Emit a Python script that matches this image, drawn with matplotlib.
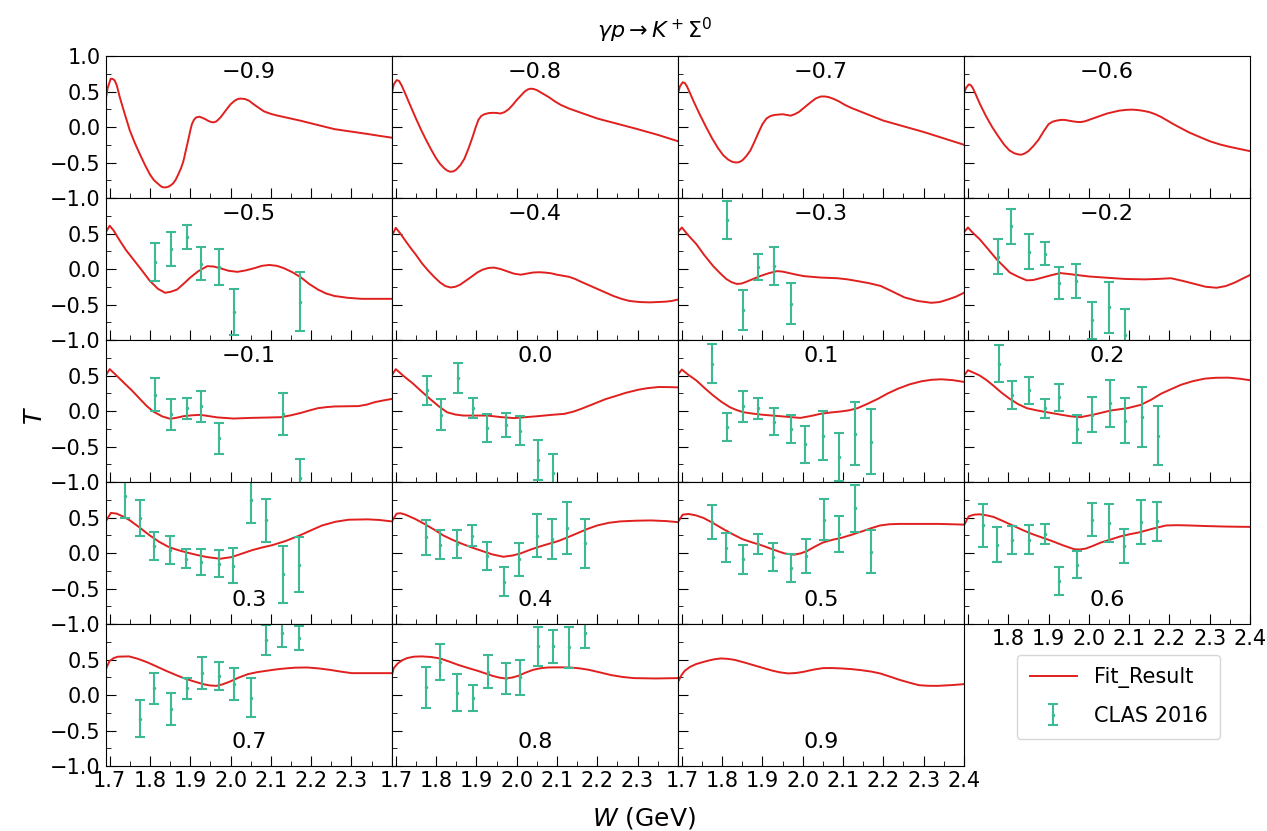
import matplotlib.pyplot as plt
from matplotlib.ticker import MultipleLocator

# panel labels (cos theta), in reading order
angles = ["−0.9", "−0.8", "−0.7", "−0.6",
          "−0.5", "−0.4", "−0.3", "−0.2",
          "−0.1", "0.0", "0.1", "0.2",
          "0.3", "0.4", "0.5", "0.6",
          "0.7", "0.8", "0.9"]

# fit curves, (W, T)
fit_m09 = [(1.689, 0.35), (1.695, 0.55), (1.7025, 0.68), (1.708, 0.675), (1.7125, 0.655),
           (1.718, 0.58), (1.725, 0.42), (1.737, 0.19), (1.75, -0.05), (1.762, -0.22),
           (1.775, -0.385), (1.788, -0.54), (1.80, -0.67), (1.81, -0.75), (1.82, -0.80),
           (1.827, -0.835), (1.833, -0.85), (1.84, -0.85), (1.846, -0.84), (1.852, -0.82),
           (1.858, -0.79), (1.864, -0.74), (1.87, -0.67), (1.877, -0.58), (1.883, -0.48),
           (1.889, -0.33), (1.895, -0.18), (1.90, -0.05), (1.904, 0.04), (1.909, 0.10),
           (1.9145, 0.135), (1.9225, 0.145), (1.93, 0.13), (1.9375, 0.11), (1.945, 0.085),
           (1.952, 0.07), (1.958, 0.065), (1.965, 0.08), (1.975, 0.135), (1.985, 0.21),
           (1.993, 0.27), (2.0, 0.32), (2.01, 0.37), (2.018, 0.395), (2.025, 0.40),
           (2.035, 0.395), (2.046, 0.37), (2.055, 0.33), (2.065, 0.29), (2.075, 0.25),
           (2.083, 0.22), (2.10, 0.185), (2.117, 0.16), (2.145, 0.125), (2.175, 0.087),
           (2.215, 0.03), (2.258, -0.03), (2.30, -0.065), (2.342, -0.10), (2.37, -0.125),
           (2.40, -0.15)]
fit_m08 = [(1.689, 0.45), (1.695, 0.60), (1.702, 0.66), (1.708, 0.65), (1.715, 0.58),
           (1.725, 0.45), (1.737, 0.29), (1.75, 0.12), (1.762, -0.03), (1.775, -0.18),
           (1.788, -0.32), (1.80, -0.44), (1.81, -0.52), (1.82, -0.58), (1.828, -0.615),
           (1.835, -0.63), (1.843, -0.625), (1.85, -0.60), (1.86, -0.54), (1.87, -0.45),
           (1.88, -0.31), (1.89, -0.15), (1.898, -0.01), (1.905, 0.10), (1.912, 0.155),
           (1.92, 0.18), (1.93, 0.195), (1.94, 0.20), (1.95, 0.198), (1.96, 0.19),
           (1.97, 0.21), (1.98, 0.25), (1.99, 0.31), (2.0, 0.38), (2.01, 0.44),
           (2.02, 0.50), (2.028, 0.53), (2.035, 0.54), (2.042, 0.535), (2.05, 0.52),
           (2.065, 0.47), (2.08, 0.42), (2.095, 0.36), (2.11, 0.31), (2.13, 0.26),
           (2.15, 0.22), (2.175, 0.17), (2.2, 0.12), (2.25, 0.045), (2.3, -0.03),
           (2.35, -0.11), (2.4, -0.2)]
fit_m07 = [(1.689, 0.45), (1.695, 0.57), (1.702, 0.63), (1.707, 0.62), (1.712, 0.58),
           (1.72, 0.48), (1.73, 0.35), (1.745, 0.17), (1.76, 0.0), (1.775, -0.16),
           (1.79, -0.30), (1.803, -0.40), (1.815, -0.46), (1.825, -0.49), (1.834, -0.50),
           (1.842, -0.495), (1.85, -0.47), (1.86, -0.41), (1.87, -0.33), (1.88, -0.21),
           (1.89, -0.08), (1.90, 0.04), (1.91, 0.12), (1.92, 0.155), (1.93, 0.17),
           (1.95, 0.18), (1.96, 0.17), (1.97, 0.16), (1.98, 0.18), (1.99, 0.21),
           (2.005, 0.28), (2.02, 0.35), (2.033, 0.405), (2.045, 0.43), (2.055, 0.43),
           (2.065, 0.42), (2.077, 0.395), (2.09, 0.36), (2.105, 0.31), (2.12, 0.27),
           (2.14, 0.225), (2.16, 0.18), (2.18, 0.135), (2.2, 0.09), (2.25, 0.01),
           (2.3, -0.07), (2.35, -0.16), (2.4, -0.25)]
fit_m06 = [(1.689, 0.45), (1.695, 0.55), (1.702, 0.60), (1.707, 0.59), (1.712, 0.55),
           (1.72, 0.45), (1.73, 0.32), (1.745, 0.15), (1.76, 0.0), (1.775, -0.13),
           (1.79, -0.25), (1.803, -0.33), (1.815, -0.37), (1.824, -0.385), (1.832, -0.39),
           (1.84, -0.375), (1.85, -0.34), (1.862, -0.27), (1.875, -0.18), (1.888, -0.06),
           (1.90, 0.04), (1.91, 0.075), (1.92, 0.09), (1.93, 0.10), (1.94, 0.10),
           (1.95, 0.09), (1.96, 0.08), (1.97, 0.072), (1.98, 0.07), (1.99, 0.08),
           (2.0, 0.10), (2.015, 0.13), (2.03, 0.16), (2.045, 0.19), (2.06, 0.21),
           (2.075, 0.23), (2.09, 0.24), (2.105, 0.245), (2.12, 0.24), (2.135, 0.228),
           (2.15, 0.21), (2.165, 0.18), (2.18, 0.14), (2.195, 0.09), (2.21, 0.04),
           (2.23, -0.02), (2.25, -0.08), (2.275, -0.14), (2.3, -0.20), (2.325, -0.245),
           (2.35, -0.28), (2.375, -0.31), (2.4, -0.34)]
fit_m05 = [(1.69, 0.514), (1.70, 0.61), (1.71, 0.54), (1.725, 0.40), (1.74, 0.27),
           (1.758, 0.14), (1.78, -0.02), (1.80, -0.17), (1.82, -0.28), (1.8375, -0.335),
           (1.852, -0.32), (1.867, -0.29), (1.883, -0.21), (1.90, -0.12), (1.92, -0.03),
           (1.942, 0.04), (1.958, 0.035), (1.975, 0.01), (1.995, -0.025), (2.017, -0.04),
           (2.037, -0.02), (2.058, 0.01), (2.078, 0.045), (2.096, 0.057), (2.115, 0.045),
           (2.133, 0.01), (2.155, -0.05), (2.175, -0.12), (2.195, -0.21), (2.217, -0.29),
           (2.237, -0.345), (2.258, -0.38), (2.29, -0.405), (2.325, -0.42), (2.36, -0.42),
           (2.40, -0.42)]
fit_m04 = [(1.689, 0.45), (1.70, 0.58), (1.71, 0.51), (1.72, 0.43), (1.735, 0.31),
           (1.75, 0.20), (1.765, 0.08), (1.78, -0.02), (1.795, -0.11), (1.81, -0.19),
           (1.823, -0.24), (1.836, -0.26), (1.848, -0.25), (1.86, -0.22), (1.875, -0.16),
           (1.89, -0.10), (1.902, -0.05), (1.915, -0.01), (1.93, 0.015), (1.944, 0.02),
           (1.96, 0.0), (1.975, -0.03), (1.993, -0.065), (2.01, -0.08), (2.025, -0.065),
           (2.04, -0.05), (2.055, -0.045), (2.07, -0.05), (2.085, -0.06), (2.10, -0.08),
           (2.115, -0.095), (2.13, -0.11), (2.145, -0.14), (2.16, -0.18), (2.18, -0.23),
           (2.20, -0.28), (2.22, -0.33), (2.24, -0.38), (2.26, -0.42), (2.28, -0.45),
           (2.305, -0.465), (2.33, -0.47), (2.35, -0.465), (2.37, -0.46), (2.385, -0.45),
           (2.40, -0.43)]
fit_m03 = [(1.6875, 0.5), (1.70, 0.585), (1.715, 0.48), (1.736, 0.35), (1.755, 0.20),
           (1.7775, 0.042), (1.795, -0.06), (1.81, -0.14), (1.823, -0.185), (1.836, -0.21),
           (1.848, -0.205), (1.86, -0.18), (1.877, -0.14), (1.894, -0.10), (1.915, -0.06),
           (1.936, -0.03), (1.948, -0.035), (1.961, -0.05), (1.98, -0.075), (2.0025, -0.10),
           (2.022, -0.11), (2.044, -0.12), (2.065, -0.125), (2.086, -0.13), (2.11, -0.145),
           (2.136, -0.17), (2.165, -0.2), (2.194, -0.24), (2.22, -0.31), (2.2525, -0.40),
           (2.285, -0.45), (2.319, -0.476), (2.34, -0.465), (2.36, -0.43), (2.38, -0.39),
           (2.40, -0.335)]
fit_m02 = [(1.6875, 0.5), (1.70, 0.585), (1.712, 0.51), (1.729, 0.42), (1.75, 0.28),
           (1.771, 0.137), (1.79, 0.03), (1.804, -0.05), (1.825, -0.11), (1.846, -0.16),
           (1.862, -0.155), (1.879, -0.13), (1.905, -0.09), (1.929, -0.057), (1.95, -0.07),
           (1.971, -0.085), (2.0, -0.105), (2.0375, -0.12), (2.09, -0.14), (2.1375, -0.146),
           (2.17, -0.14), (2.204, -0.13), (2.235, -0.17), (2.2625, -0.21), (2.29, -0.25),
           (2.317, -0.264), (2.34, -0.24), (2.3625, -0.19), (2.38, -0.14), (2.40, -0.085)]
fit_m01 = [(1.69, 0.50), (1.70, 0.59), (1.715, 0.51), (1.733, 0.41), (1.755, 0.29),
           (1.775, 0.17), (1.792, 0.07), (1.808, -0.007), (1.83, -0.075), (1.85, -0.11),
           (1.866, -0.095), (1.883, -0.073), (1.905, -0.06), (1.925, -0.054), (1.946, -0.072),
           (1.967, -0.09), (2.008, -0.106), (2.05, -0.097), (2.09, -0.092), (2.125, -0.087),
           (2.15, -0.06), (2.175, -0.026), (2.197, 0.01), (2.217, 0.04), (2.238, 0.055),
           (2.258, 0.064), (2.29, 0.067), (2.317, 0.069), (2.338, 0.09), (2.358, 0.125),
           (2.38, 0.15), (2.40, 0.17)]
fit_00 = [(1.689, 0.494), (1.70, 0.59), (1.72, 0.49), (1.743, 0.385), (1.765, 0.27),
          (1.785, 0.17), (1.806, 0.07), (1.827, -0.017), (1.848, -0.05), (1.868, -0.064),
          (1.90, -0.064), (1.927, -0.064), (1.96, -0.085), (1.993, -0.10), (2.025, -0.085),
          (2.052, -0.073), (2.085, -0.055), (2.118, -0.04), (2.14, -0.01), (2.16, 0.03),
          (2.18, 0.075), (2.202, 0.125), (2.222, 0.17), (2.243, 0.206), (2.27, 0.255),
          (2.302, 0.30), (2.325, 0.322), (2.352, 0.338), (2.375, 0.337), (2.40, 0.333)]
fit_01 = [(1.6875, 0.494), (1.70, 0.584), (1.716, 0.51), (1.736, 0.43), (1.757, 0.32),
          (1.7775, 0.22), (1.798, 0.13), (1.819, 0.054), (1.835, 0.015), (1.8525, -0.017),
          (1.878, -0.038), (1.9025, -0.054), (1.944, -0.073), (1.994, -0.097), (2.02, -0.07),
          (2.044, -0.04), (2.07, -0.02), (2.094, -0.007), (2.115, 0.01), (2.136, 0.04),
          (2.16, 0.1), (2.186, 0.17), (2.21, 0.245), (2.236, 0.314), (2.265, 0.375),
          (2.294, 0.418), (2.32, 0.44), (2.344, 0.447), (2.372, 0.435), (2.40, 0.41)]
fit_02 = [(1.6875, 0.48), (1.70, 0.574), (1.714, 0.54), (1.729, 0.50), (1.745, 0.44),
          (1.7625, 0.36), (1.783, 0.26), (1.804, 0.17), (1.825, 0.095), (1.846, 0.04),
          (1.87, 0.01), (1.896, -0.017), (1.929, -0.05), (1.955, -0.075), (1.979, -0.087),
          (2.0125, -0.05), (2.054, 0.007), (2.096, 0.04), (2.129, 0.087), (2.155, 0.16),
          (2.179, 0.243), (2.205, 0.31), (2.229, 0.37), (2.258, 0.42), (2.2875, 0.456),
          (2.315, 0.468), (2.346, 0.47), (2.375, 0.455), (2.40, 0.433)]
fit_03 = [(1.689, 0.435), (1.703, 0.565), (1.717, 0.555), (1.733, 0.515), (1.75, 0.46),
          (1.774, 0.36), (1.798, 0.254), (1.822, 0.16), (1.846, 0.086), (1.87, 0.04),
          (1.893, 0.005), (1.917, -0.028), (1.941, -0.057), (1.974, -0.081), (2.003, -0.057),
          (2.03, -0.005), (2.055, 0.043), (2.08, 0.08), (2.103, 0.11), (2.137, 0.17),
          (2.17, 0.244), (2.2, 0.32), (2.227, 0.388), (2.26, 0.44), (2.293, 0.469),
          (2.341, 0.474), (2.37, 0.465), (2.40, 0.445)]
fit_04 = [(1.6876, 0.42), (1.702, 0.555), (1.712, 0.56), (1.724, 0.54), (1.748, 0.48),
          (1.771, 0.41), (1.795, 0.33), (1.819, 0.244), (1.843, 0.18), (1.867, 0.124),
          (1.89, 0.075), (1.914, 0.029), (1.94, -0.02), (1.967, -0.053), (1.99, -0.035),
          (2.01, -0.005), (2.033, 0.045), (2.057, 0.091), (2.08, 0.13), (2.105, 0.172),
          (2.128, 0.225), (2.152, 0.282), (2.176, 0.34), (2.2, 0.388), (2.228, 0.425),
          (2.257, 0.445), (2.295, 0.455), (2.333, 0.459), (2.37, 0.45), (2.40, 0.435)]
fit_05 = [(1.6876, 0.41), (1.702, 0.54), (1.716, 0.55), (1.735, 0.53), (1.754, 0.493),
          (1.778, 0.42), (1.802, 0.34), (1.826, 0.265), (1.85, 0.196), (1.874, 0.15),
          (1.897, 0.11), (1.926, 0.05), (1.954, -0.005), (1.978, -0.024), (1.995, -0.005),
          (2.011, 0.029), (2.03, 0.09), (2.05, 0.148), (2.073, 0.185), (2.097, 0.215),
          (2.12, 0.255), (2.145, 0.301), (2.17, 0.35), (2.192, 0.388), (2.215, 0.405),
          (2.24, 0.41), (2.29, 0.41), (2.335, 0.41), (2.37, 0.405), (2.40, 0.40)]
fit_06 = [(1.6876, 0.364), (1.702, 0.517), (1.715, 0.54), (1.73, 0.545), (1.747, 0.53),
          (1.764, 0.507), (1.787, 0.45), (1.811, 0.388), (1.835, 0.325), (1.859, 0.268),
          (1.883, 0.22), (1.907, 0.172), (1.935, 0.11), (1.964, 0.053), (1.978, 0.05),
          (1.992, 0.062), (2.01, 0.1), (2.03, 0.148), (2.054, 0.19), (2.078, 0.234),
          (2.102, 0.265), (2.126, 0.292), (2.16, 0.345), (2.192, 0.388), (2.22, 0.392),
          (2.25, 0.388), (2.29, 0.38), (2.335, 0.373), (2.37, 0.37), (2.40, 0.368)]
fit_07 = [(1.688, 0.308), (1.693, 0.40), (1.70, 0.48), (1.71, 0.52), (1.72, 0.54),
          (1.748, 0.544), (1.77, 0.51), (1.794, 0.459), (1.817, 0.40), (1.84, 0.341),
          (1.863, 0.285), (1.886, 0.233), (1.91, 0.19), (1.932, 0.153), (1.948, 0.135),
          (1.965, 0.129), (1.98, 0.15), (1.997, 0.186), (2.02, 0.245), (2.043, 0.294),
          (2.066, 0.322), (2.089, 0.341), (2.112, 0.36), (2.135, 0.374), (2.16, 0.385),
          (2.19, 0.388), (2.218, 0.375), (2.246, 0.355), (2.273, 0.33), (2.301, 0.308),
          (2.35, 0.308), (2.40, 0.308)]
fit_08 = [(1.69, 0.27), (1.695, 0.38), (1.705, 0.445), (1.716, 0.49), (1.728, 0.52),
          (1.745, 0.54), (1.765, 0.544), (1.788, 0.535), (1.81, 0.515), (1.833, 0.47),
          (1.857, 0.42), (1.88, 0.38), (1.903, 0.341), (1.922, 0.305), (1.94, 0.27),
          (1.957, 0.245), (1.972, 0.233), (1.988, 0.245), (2.004, 0.27), (2.022, 0.315),
          (2.041, 0.355), (2.06, 0.378), (2.078, 0.388), (2.105, 0.39), (2.133, 0.388),
          (2.157, 0.375), (2.179, 0.355), (2.207, 0.318), (2.235, 0.28), (2.262, 0.255),
          (2.29, 0.238), (2.345, 0.233), (2.40, 0.238)]
fit_09 = [(1.688, 0.233), (1.692, 0.20), (1.698, 0.27), (1.707, 0.341), (1.72, 0.395),
          (1.735, 0.435), (1.75, 0.46), (1.764, 0.482), (1.78, 0.503), (1.797, 0.515),
          (1.813, 0.51), (1.83, 0.496), (1.854, 0.46), (1.878, 0.42), (1.902, 0.38),
          (1.926, 0.341), (1.945, 0.318), (1.964, 0.304), (1.983, 0.31), (2.002, 0.327),
          (2.026, 0.357), (2.05, 0.379), (2.073, 0.38), (2.097, 0.374), (2.121, 0.365),
          (2.145, 0.35), (2.17, 0.33), (2.192, 0.304), (2.216, 0.26), (2.24, 0.214),
          (2.264, 0.175), (2.288, 0.139), (2.31, 0.13), (2.335, 0.129), (2.37, 0.14),
          (2.40, 0.153)]

# CLAS 2016 points, (W, T, error)
clas_m05 = [(1.8125, 0.099, 0.266), (1.8525, 0.278, 0.24), (1.893, 0.453, 0.165),
            (1.9275, 0.075, 0.229), (1.9725, 0.028, 0.252), (2.008, -0.604, 0.328),
            (2.1725, -0.462, 0.417)]
clas_m03 = [(1.811, 0.693, 0.267), (1.8525, -0.58, 0.278), (1.89, 0.028, 0.189),
            (1.9275, 0.042, 0.269), (1.9717, -0.486, 0.283)]
clas_m02 = [(1.775, 0.175, 0.248), (1.808, 0.60, 0.252), (1.852, 0.245, 0.243),
            (1.891, 0.217, 0.165), (1.926, -0.193, 0.224), (1.969, -0.17, 0.243),
            (2.008, -0.72, 0.26), (2.05, -0.54, 0.358), (2.089, -0.93, 0.37)]
clas_m01 = [(1.8125, 0.23, 0.232), (1.8525, -0.045, 0.217), (1.8917, 0.04, 0.147),
            (1.9275, 0.068, 0.217), (1.9725, -0.385, 0.222), (2.131, -0.045, 0.298),
            (2.1725, -0.95, 0.27)]
clas_00 = [(1.777, 0.29, 0.203), (1.812, -0.054, 0.22), (1.854, 0.47, 0.213),
           (1.8925, 0.04, 0.142), (1.9275, -0.243, 0.194), (1.9725, -0.196, 0.163),
           (2.008, -0.277, 0.20), (2.052, -0.69, 0.281), (2.089, -0.868, 0.265)]
clas_01 = [(1.775, 0.669, 0.272), (1.811, -0.229, 0.20), (1.8525, 0.068, 0.217),
           (1.89, 0.04, 0.147), (1.9275, -0.149, 0.194), (1.9717, -0.253, 0.203),
           (2.0067, -0.47, 0.26), (2.051, -0.348, 0.347), (2.09, -0.645, 0.342),
           (2.13, -0.32, 0.444), (2.169, -0.433, 0.456)]
clas_02 = [(1.777, 0.669, 0.255), (1.81, 0.229, 0.198), (1.8525, 0.29, 0.196),
           (1.891, 0.04, 0.135), (1.926, 0.196, 0.189), (1.971, -0.253, 0.194),
           (2.008, -0.05, 0.243), (2.052, 0.111, 0.331), (2.089, -0.135, 0.312),
           (2.131, -0.087, 0.423), (2.171, -0.348, 0.414)]
clas_03 = [(1.738, 0.809, 0.316), (1.775, 0.493, 0.258), (1.811, 0.10, 0.203),
           (1.85, 0.043, 0.20), (1.89, -0.081, 0.134), (1.927, -0.129, 0.184),
           (1.972, -0.148, 0.196), (2.006, -0.177, 0.251), (2.051, 0.74, 0.32),
           (2.089, 0.459, 0.297), (2.131, -0.30, 0.40), (2.17, -0.163, 0.383)]
clas_04 = [(1.774, 0.22, 0.251), (1.81, 0.115, 0.203), (1.852, 0.124, 0.194),
           (1.889, 0.244, 0.144), (1.926, -0.043, 0.196), (1.969, -0.402, 0.201),
           (2.007, -0.091, 0.234), (2.05, 0.244, 0.306), (2.088, 0.196, 0.278),
           (2.126, 0.354, 0.364), (2.169, 0.134, 0.344)]
clas_05 = [(1.775, 0.435, 0.242), (1.81, 0.077, 0.201), (1.852, -0.091, 0.203),
           (1.89, 0.124, 0.144), (1.926, -0.057, 0.191), (1.971, -0.21, 0.196),
           (2.008, -0.043, 0.234), (2.052, 0.469, 0.287), (2.09, 0.268, 0.258),
           (2.13, 0.627, 0.328), (2.17, 0.019, 0.304)]
clas_06 = [(1.737, 0.388, 0.304), (1.773, 0.115, 0.246), (1.81, 0.182, 0.199),
           (1.851, 0.187, 0.206), (1.89, 0.268, 0.146), (1.926, -0.392, 0.199),
           (1.971, -0.163, 0.187), (2.007, 0.469, 0.23), (2.051, 0.421, 0.27),
           (2.088, 0.10, 0.244), (2.13, 0.435, 0.306), (2.169, 0.445, 0.27)]
clas_07 = [(1.776, -0.332, 0.266), (1.811, 0.092, 0.214), (1.852, -0.20, 0.224),
           (1.891, 0.092, 0.151), (1.928, 0.308, 0.221), (1.971, 0.271, 0.20),
           (2.009, 0.153, 0.226), (2.05, -0.035, 0.278), (2.089, 0.78, 0.21),
           (2.128, 0.88, 0.20), (2.17, 0.80, 0.165)]
clas_08 = [(1.776, 0.106, 0.289), (1.81, 0.468, 0.252), (1.853, 0.035, 0.259),
           (1.892, -0.04, 0.184), (1.928, 0.327, 0.231), (1.973, 0.233, 0.212),
           (2.009, 0.247, 0.245), (2.053, 0.685, 0.27), (2.089, 0.685, 0.235),
           (2.13, 0.67, 0.287), (2.17, 0.88, 0.22)]

fits = [fit_m09, fit_m08, fit_m07, fit_m06, fit_m05, fit_m04, fit_m03, fit_m02,
        fit_m01, fit_00, fit_01, fit_02, fit_03, fit_04, fit_05, fit_06,
        fit_07, fit_08, fit_09]
clas = [None, None, None, None, clas_m05, None, clas_m03, clas_m02,
        clas_m01, clas_00, clas_01, clas_02, clas_03, clas_04, clas_05, clas_06,
        clas_07, clas_08, None]

xticks = [1.7, 1.8, 1.9, 2.0, 2.1, 2.2, 2.3, 2.4]
yticks = [-1.0, -0.5, 0.0, 0.5, 1.0]

red = '#e0201e'
teal = '#3dba95'

fig, axes = plt.subplots(5, 4, figsize=(12.67, 8.31), dpi=100)
fig.subplots_adjust(left=0.0834, right=0.9866, top=0.9326, bottom=0.0782,
                    hspace=0, wspace=0)

line_h = None
err_h = None
for i, ax in enumerate(axes.flat):
    row, col = divmod(i, 4)
    ax.set_xlim(1.69, 2.4)
    ax.set_ylim(-1, 1)
    ax.set_xticks(xticks)
    ax.set_yticks(yticks)
    ax.xaxis.set_minor_locator(MultipleLocator(0.05))
    ax.yaxis.set_minor_locator(MultipleLocator(0.25))
    ax.tick_params(which='both', direction='in', labelsize=15)
    ax.tick_params(which='major', length=7)
    ax.tick_params(which='minor', length=3.5)

    # x labels only on the bottom edge of the grid
    if row == 4 and col in (0, 1):
        ax.set_xticklabels([f"{v:.1f}" for v in xticks[:-1]] + [""])
    elif row == 4 and col == 2:
        ax.set_xticklabels([f"{v:.1f}" for v in xticks])
    elif row == 3 and col == 3:
        ax.set_xticklabels([""] + [f"{v:.1f}" for v in xticks[1:]])
    else:
        ax.tick_params(labelbottom=False)

    # y labels on first column
    if col == 0:
        labs = ["−1.0", "−0.5", "0.0", "0.5", "1.0"]
        if row > 0:
            labs[-1] = ""
        ax.set_yticklabels(labs)
    else:
        ax.tick_params(labelleft=False)

    if i >= len(fits):
        ax.axis('off')
        continue

    w = [p[0] for p in fits[i]]
    t = [p[1] for p in fits[i]]
    ln, = ax.plot(w, t, color=red, lw=1.4)
    line_h = ln

    if clas[i] is not None:
        dw = [p[0] for p in clas[i]]
        dt = [p[1] for p in clas[i]]
        de = [p[2] for p in clas[i]]
        eb = ax.errorbar(dw, dt, yerr=de, fmt='.', color=teal, ms=3,
                         elinewidth=1.5, capsize=3.5, capthick=1.5)
        err_h = eb

    ypos = 0.887 if row < 3 else 0.17
    ax.text(0.5, ypos, angles[i], transform=ax.transAxes, ha='center',
            va='center', fontsize=16)

fig.legend([line_h, err_h], ["Fit_Result", "CLAS 2016"], loc='upper left',
           bbox_to_anchor=(0.8027, 0.2118), fontsize=15, borderaxespad=0,
           borderpad=0.6, labelspacing=0.85, handlelength=2.3)

fig.text(0.517, 0.964, r'$\gamma p \rightarrow K^+\Sigma^0$', ha='center',
         va='center', fontsize=16)
fig.text(0.0276, 0.5, r'$T$', ha='center', va='center', fontsize=18, rotation=90)
fig.text(0.508, 0.0156, r'$W$ (GeV)', ha='center', va='center', fontsize=18)

fig.savefig('out.png', dpi=100)
